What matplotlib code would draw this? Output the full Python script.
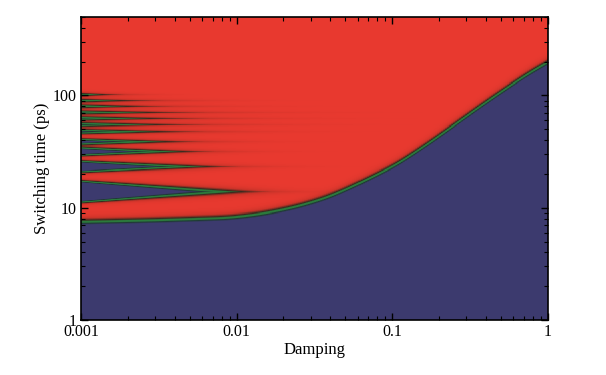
import numpy as np
import matplotlib
matplotlib.use("Agg")
import matplotlib.pyplot as plt
from matplotlib.colors import LinearSegmentedColormap

# main switching boundary (green line)
bnd_damping = [0.001, 0.0028, 0.00906, 0.01476, 0.0244, 0.0397, 0.0648, 0.107, 0.174, 0.424, 0.765, 1.0]
bnd_time = [7.5, 7.73, 8.14, 8.84, 10.2, 12.5, 17.1, 24.2, 38.0, 92.0, 160.0, 197.0]

# non-switching fringes at low damping: centre time (ps), half width (decades) at 0.001, tip damping
fringe_time = [13.9, 23.2, 31.6, 38.8, 47.7, 55.0, 62.3, 70.5, 80.0, 90.0, 102.0]
fringe_width = [0.094, 0.046, 0.032, 0.020, 0.012, 0.008, 0.006, 0.005, 0.004, 0.003, 0.003]
fringe_tip = [0.008, 0.0045, 0.0032, 0.0025, 0.0021, 0.0018, 0.0016, 0.0015, 0.0013, 0.0012, 0.0011]

xticks = [0.001, 0.01, 0.1, 1]
xlabels = ['0.001', '0.01', '0.1', '1']
yticks = [1, 10, 100]
ylabels = ['1', '10', '100']


def sig(z):
    return 1.0 / (1.0 + np.exp(-z))


def main():
    plt.rcParams['font.family'] = ['Liberation Serif', 'DejaVu Serif']

    alpha = np.logspace(-3, 0, 700)
    tps = np.logspace(0, np.log10(500), 600)

    # boundary through the read points, smoothed a little in log space
    lb1 = np.interp(np.log10(alpha), np.log10(bnd_damping), np.log10(bnd_time))
    k = np.exp(-0.5 * (np.arange(-45, 46) / 15.0) ** 2)
    k /= k.sum()
    pad = np.concatenate([np.full(45, lb1[0]), lb1, lb1[-1] + (lb1[-1] - lb1[-46:-1][::-1])])
    lb1 = np.convolve(pad, k, mode='valid')

    la, lt = np.meshgrid(np.log10(alpha), np.log10(tps))
    lb = np.broadcast_to(lb1, la.shape)

    # red = switched, blue = not switched, green = in between
    v = sig((lt - lb) / 0.02)
    for c, h, a in zip(fringe_time, fringe_width, fringe_tip):
        s = (la + 3) / (np.log10(a) + 3)
        w = h * (1 - s)
        d = np.abs(lt - np.log10(c)) - w
        blur = 0.01 + 0.1 * h * np.clip(s, 0, 1)
        v = v * (1 - sig(-d / blur))

    cmap = LinearSegmentedColormap.from_list('sw', [
        (0.0, '#3c3a6e'),
        (0.2, '#3c3a6e'),
        (0.33, '#1f3a35'),
        (0.45, '#2b7a3c'),
        (0.55, '#2b7a3c'),
        (0.68, '#3a2a1e'),
        (0.86, '#c93329'),
        (1.0, '#e8392f'),
    ])

    fig = plt.figure(figsize=(6.06, 3.75), dpi=100)
    ax = fig.add_axes([0.1337, 0.1467, 0.904 - 0.1337, 0.9547 - 0.1467])
    ax.pcolormesh(alpha, tps, v, cmap=cmap, vmin=0, vmax=1, shading='auto', rasterized=True)
    ax.set_xscale('log')
    ax.set_yscale('log')
    ax.set_xlim(0.001, 1)
    ax.set_ylim(1, 500)
    ax.set_xticks(xticks)
    ax.set_xticklabels(xlabels)
    ax.set_yticks(yticks)
    ax.set_yticklabels(ylabels)
    ax.tick_params(which='both', direction='in', top=True, right=True, labelsize=11.5, pad=3)
    ax.tick_params(which='major', length=5, width=1)
    ax.tick_params(which='minor', length=3, width=0.8)
    for sp in ax.spines.values():
        sp.set_linewidth(1.2)
    ax.set_xlabel('Damping', fontsize=12, labelpad=1)
    ax.set_ylabel('Switching time (ps)', fontsize=12, labelpad=2)

    fig.savefig('out.png', dpi=100)


if __name__ == "__main__":
    main()
